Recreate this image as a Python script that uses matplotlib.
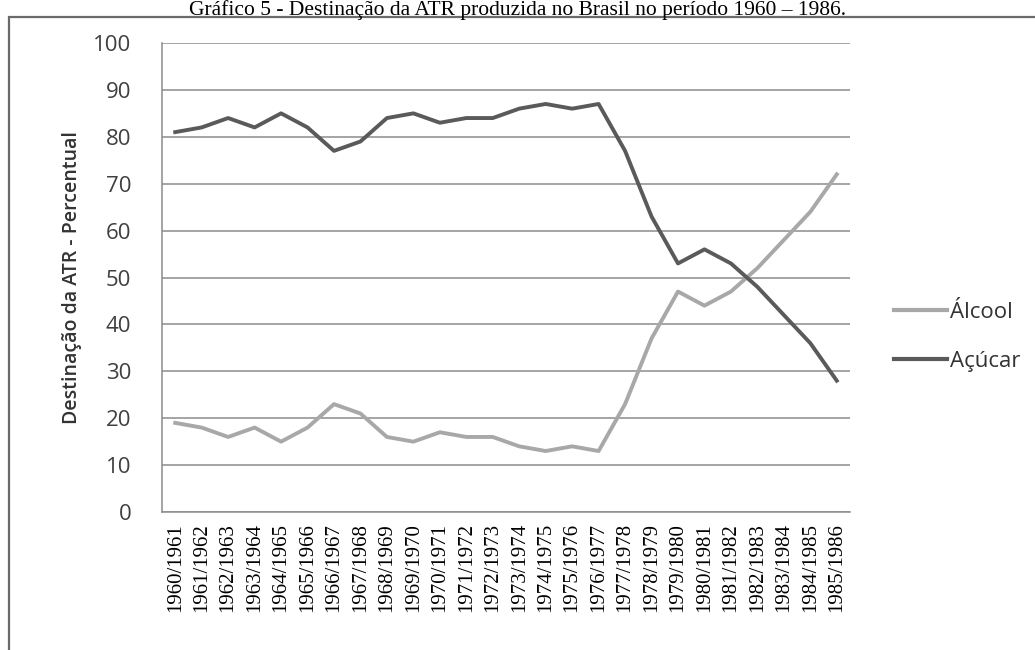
import matplotlib
matplotlib.use("Agg")
import matplotlib.pyplot as plt
from matplotlib.lines import Line2D
from matplotlib.patches import Rectangle

safras = ["1960/1961", "1961/1962", "1962/1963", "1963/1964", "1964/1965",
          "1965/1966", "1966/1967", "1967/1968", "1968/1969", "1969/1970",
          "1970/1971", "1971/1972", "1972/1973", "1973/1974", "1974/1975",
          "1975/1976", "1976/1977", "1977/1978", "1978/1979", "1979/1980",
          "1980/1981", "1981/1982", "1982/1983", "1983/1984", "1984/1985",
          "1985/1986"]
alcool = [19, 18, 16, 18, 15, 18, 23, 21, 16, 15, 17, 16, 16, 14, 13, 14, 13,
          23, 37, 47, 44, 47, 52, 58, 64, 72]
acucar = [81, 82, 84, 82, 85, 82, 77, 79, 84, 85, 83, 84, 84, 86, 87, 86, 87,
          77, 63, 53, 56, 53, 48, 42, 36, 28]
yticks = list(range(0, 101, 10))

sans = ["Open Sans", "DejaVu Sans"]
serif = ["Liberation Serif", "DejaVu Serif"]

fig = plt.figure(figsize=(10.35, 6.5), dpi=100)
fig.patch.set_facecolor("white")

# outer chart frame
frame = Rectangle((9 / 1035, -0.01), 1.2, (650 - 17) / 650 + 0.01,
                  transform=fig.transFigure, fill=False,
                  edgecolor="#6a6a6a", linewidth=1.6)
fig.add_artist(frame)

fig.text(0.5, 1 - 0.5 / 650,
         "Gráfico 5 - Destinação da ATR produzida no Brasil no período 1960 – 1986.",
         ha="center", va="top", fontsize=15.5, family=serif, color="black")

ax = fig.add_axes([162 / 1035, 1 - 512 / 650, (850 - 162) / 1035, (512 - 43) / 650])
x = list(range(len(safras)))
ax.plot(x, alcool, color="#a8a8a8", linewidth=2.8, solid_joinstyle="round")
ax.plot(x, acucar, color="#5a5a5a", linewidth=2.8, solid_joinstyle="round")

ax.set_xlim(-0.5, len(safras) - 0.5)
ax.set_ylim(0, 100)
ax.set_yticks(yticks)
ax.set_yticklabels([str(v) for v in yticks], family=sans, fontsize=16, color="#404040")
ax.set_xticks(x)
ax.set_xticklabels(safras, rotation=90, family=serif, fontsize=15, color="black")
ax.tick_params(axis="both", length=0)
ax.tick_params(axis="y", pad=22)
ax.tick_params(axis="x", pad=8)

ax.grid(axis="y", color="#8c8c8c", linewidth=1.1)
ax.set_axisbelow(True)
for side in ["top", "right"]:
    ax.spines[side].set_visible(False)
ax.spines["left"].set_color("#8c8c8c")
ax.spines["bottom"].set_color("#8c8c8c")
ax.spines["left"].set_linewidth(1.1)
ax.spines["bottom"].set_linewidth(1.1)

ax.set_ylabel("Destinação da ATR - Percentual", family=sans, fontsize=14,
              fontweight="semibold", color="#333333", labelpad=8)

handles = [Line2D([], [], color="#a8a8a8", linewidth=3),
           Line2D([], [], color="#5a5a5a", linewidth=3)]
fig.legend(handles, ["Álcool", "Açúcar"], loc="center left",
           bbox_to_anchor=(874 / 1035, 1 - 337 / 650), frameon=False,
           prop={"family": sans, "size": 16}, handlelength=2.4,
           handletextpad=0.1, labelspacing=1.25, labelcolor="#333333")

fig.savefig("out.png", dpi=100, facecolor="white")
